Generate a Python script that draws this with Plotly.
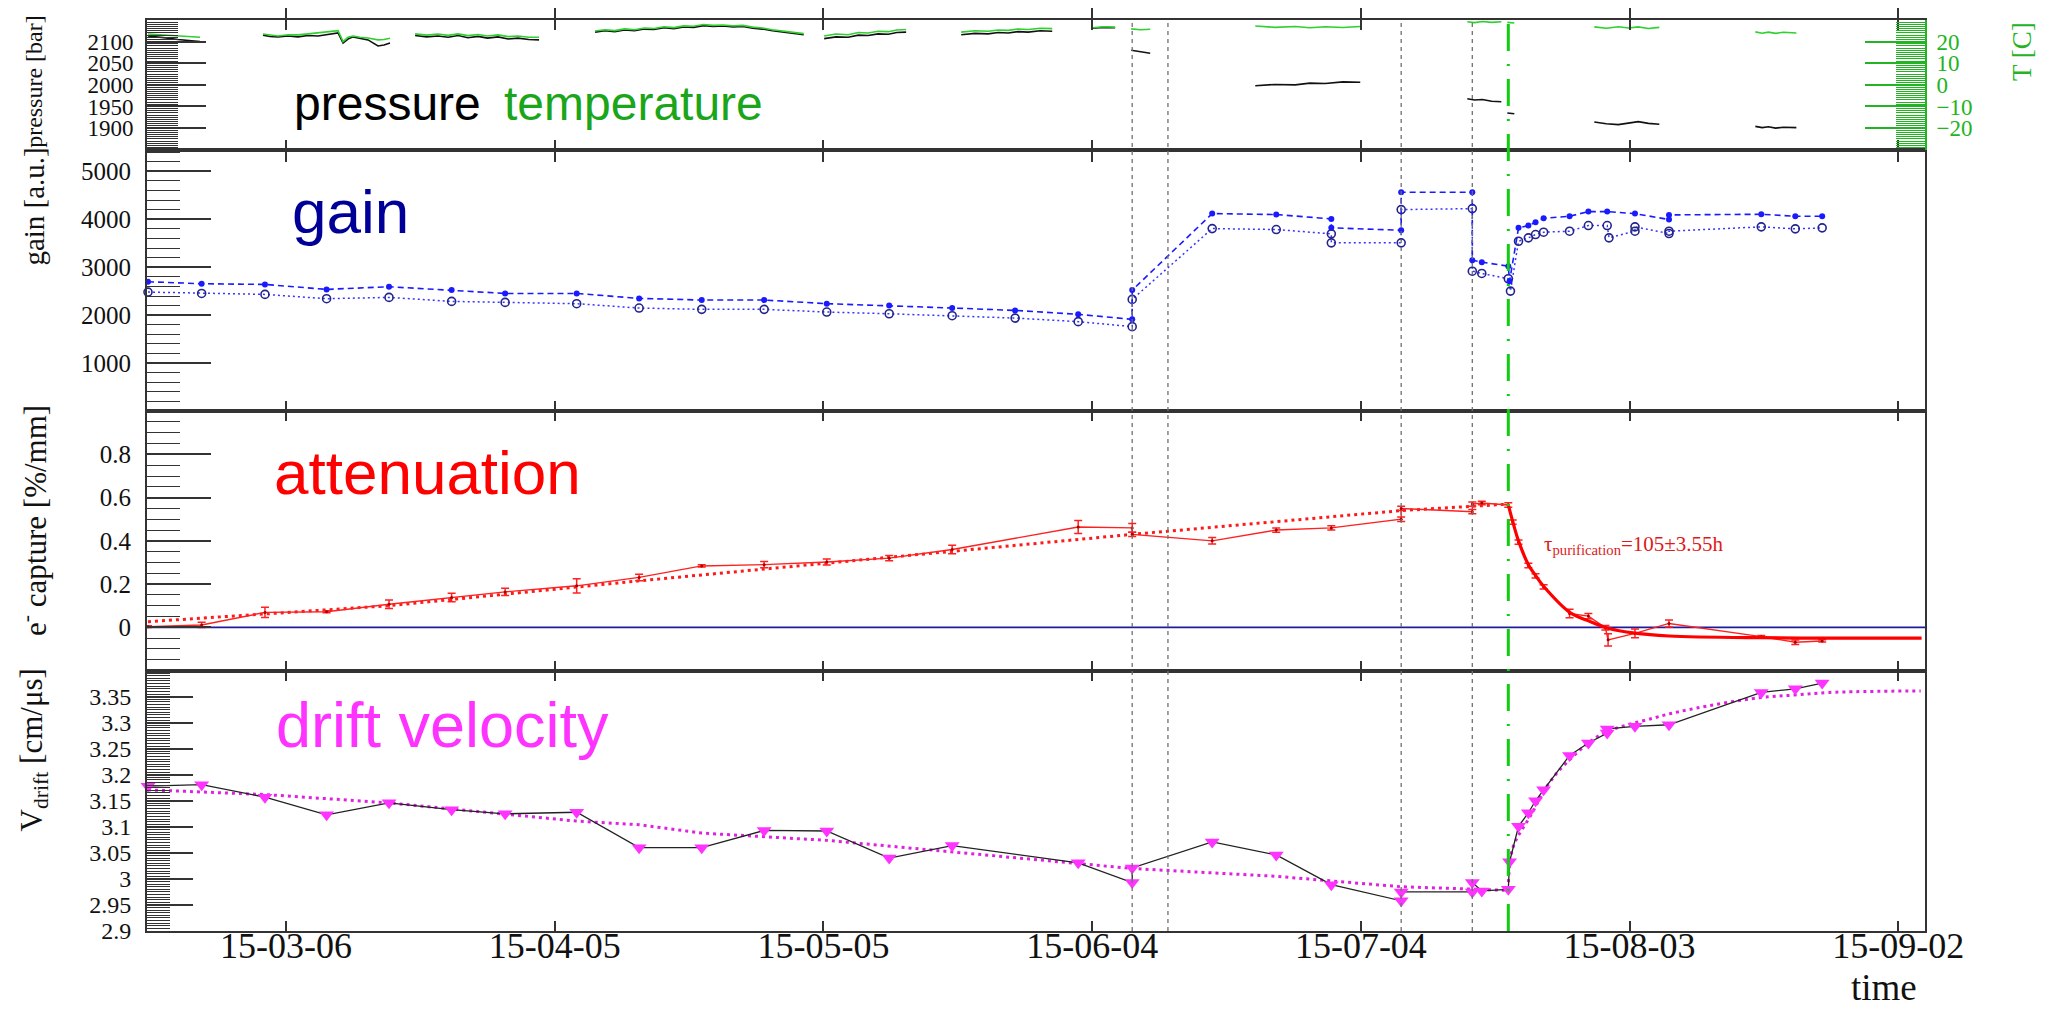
import pandas as pd
import plotly.graph_objects as go

# ---------------- data (time in days relative to 2015-03-06) ----------------
T0 = pd.Timestamp("2015-03-06")
x_range_days = [-15.52, 182.98]
tick_days = [0, 30, 60, 90, 120, 150, 180]
tick_labels = ["15-03-06", "15-04-05", "15-05-05", "15-06-04", "15-07-04", "15-08-03", "15-09-02"]

# pressure / temperature slow-control records (None = gap)
pt_days = [-15.41, -14.29, -13.18, -12.06, -10.94, -9.60, None,
           -2.57, -1.79, -0.89, 0.22, 1.34, 2.46, 3.57, 4.69, 5.81, 6.37, 6.92, 7.48, 8.26, 9.16, 10.27, 10.94, 11.61, None,
           14.41, 15.7, 16.97, 18.1, 19.21, 20.3, 21.44, 22.5, 23.67, 24.8, 25.91, 27.1, 28.25, None,
           34.5, 35.6, 36.7, 37.8, 38.9, 40.0, 41.1, 42.2, 43.3, 44.4, 45.5, 46.6, 47.7, 48.8, 49.9,
           51.0, 52.1, 53.2, 54.3, 55.4, 56.5, 57.8, None,
           60.08, 61.4, 62.76, 63.9, 64.99, 66.1, 67.23, 68.2, 69.23, None,
           75.38, 76.9, 78.39, 79.5, 80.62, 81.7, 82.86, 84.2, 85.54, None,
           90.00, 91.3, 92.57, None,
           94.36, 95.4, 96.48, None,
           108.21, 110.4, 112.67, 114.3, 116.02, 118.0, 119.93, None,
           131.88, 132.7, 133.56, 134.6, 135.68, None,
           136.35, 137.13, None,
           146.06, 147.4, 148.74, 149.9, 150.97, 152.1, 153.32, None,
           164.04, 164.8, 165.49, 166.3, 167.17, 168.62]
pressure = [2113, 2111, 2108, 2105, 2103, 2100, None,
            2115, 2112, 2111, 2113, 2111, 2114, 2113, 2117, 2120, 2097, 2106, 2111, 2107, 2104, 2090, 2092, 2097, None,
            2114, 2111, 2113, 2110, 2114, 2109, 2112, 2108, 2111, 2106, 2108, 2105, 2104, None,
            2122, 2125, 2123, 2127, 2125, 2129, 2128, 2132, 2130, 2134, 2133, 2137, 2135, 2136, 2134,
            2135, 2131, 2129, 2125, 2122, 2118, 2116, None,
            2107, 2111, 2110, 2115, 2114, 2118, 2117, 2121, 2122, None,
            2116, 2119, 2118, 2121, 2120, 2123, 2122, 2125, 2124, None,
            2131, 2133, 2132, None,
            2080, 2076, 2073, None,
            1998, 2001, 2000, 2004, 2003, 2007, 2006, None,
            1968, 1965, 1966, 1962, 1961, None,
            1935, 1933, None,
            1914, 1910, 1908, 1912, 1915, 1911, 1909, None,
            1904, 1901, 1903, 1900, 1902, 1901]
temperature = [23.5, 23.2, 22.8, 22.5, 22.3, 22.0, None,
               23.5, 23.0, 22.6, 23.2, 23.1, 23.6, 24.0, 24.5, 25.1, 20.0, 22.0, 22.6, 22.0, 21.7, 20.8, 21.0, 21.6, None,
               23.6, 23.0, 23.5, 22.9, 23.6, 22.8, 23.3, 22.6, 23.1, 22.3, 22.6, 22.0, 22.0, None,
               24.9, 25.5, 25.1, 25.9, 25.5, 26.3, 26.1, 26.9, 26.5, 27.3, 27.1, 27.9, 27.5, 27.7, 27.3,
               27.5, 26.7, 26.3, 25.5, 24.9, 24.1, 23.7, None,
               22.6, 23.5, 23.2, 24.2, 24.0, 24.8, 24.6, 25.4, 25.6, None,
               24.4, 25.0, 24.8, 25.4, 25.2, 25.8, 25.6, 26.2, 26.0, None,
               26.4, 26.9, 26.7, None,
               25.9, 25.5, 25.7, None,
               27.2, 26.6, 27.0, 26.4, 26.9, 26.5, 27.0, None,
               29.2, 28.8, 29.3, 28.9, 29.2, None,
               28.9, 28.6, None,
               26.8, 26.2, 26.9, 26.3, 26.8, 26.1, 26.6, None,
               24.5, 23.9, 24.4, 23.8, 24.3, 24.0]

# gain
gain_hi_days = [-15.41, -9.42, -2.35, 4.53, 11.50, 18.49, 24.46, 32.45, 39.42, 46.41, 53.38, 60.37,
                67.34, 74.37, 81.40, 88.44, 94.47, 94.47, 103.4, 110.55, 116.7, 116.7, 124.5, 124.5,
                132.44, 132.44, 133.5, 136.46, 136.6, 137.6, 138.7, 139.5, 140.4, 143.3, 145.4, 147.5,
                150.6, 154.4, 154.4, 164.7, 168.5, 171.5]
gain_hi = [2698, 2656, 2642, 2538, 2593, 2524, 2454, 2454, 2350, 2316, 2316, 2240,
           2200, 2150, 2100, 2018, 1914, 2523, 4118, 4098, 4008, 3821, 3771, 4562,
           4562, 3147, 3106, 3023, 2710, 3821, 3869, 3938, 4021, 4063, 4160, 4160,
           4118, 3994, 4091, 4104, 4063, 4063]
gain_lo_days = [-15.41, -9.42, -2.35, 4.53, 11.50, 18.49, 24.46, 32.45, 39.42, 46.41, 53.38, 60.37,
                67.34, 74.37, 81.40, 88.44, 94.47, 94.47, 103.4, 110.55, 116.7, 116.7, 124.5, 124.5,
                132.44, 132.44, 133.5, 136.46, 136.7, 137.6, 138.7, 139.5, 140.4, 143.3, 145.4, 147.5,
                147.7, 150.6, 150.6, 154.4, 154.4, 164.7, 168.5, 171.5]
gain_lo = [2482, 2454, 2434, 2344, 2371, 2288, 2267, 2240, 2149, 2122, 2122, 2066,
           2030, 1990, 1940, 1866, 1762, 2330, 3806, 3786, 3696, 3509, 3509, 4202,
           4222, 2918, 2870, 2760, 2503, 3542, 3613, 3682, 3730, 3751, 3869, 3869,
           3613, 3751, 3842, 3703, 3751, 3842, 3800, 3821]

# attenuation (electron capture)
att_days = [-15.41, -9.42, -2.35, 4.53, 11.50, 18.49, 24.46, 32.45, 39.42, 46.41, 53.38, 60.37,
            67.34, 74.37, 88.44, 94.47, 94.47, 103.4, 110.55, 116.7, 124.5, 124.5, 132.44, 132.44,
            133.5, 136.46, 136.95, 137.6, 138.7, 139.5, 140.4, 143.3, 145.4, 147.3, 147.6, 150.6,
            154.4, 164.7, 168.5, 171.5]
att = [0.003, 0.011, 0.069, 0.072, 0.107, 0.138, 0.164, 0.192, 0.231, 0.284, 0.290, 0.302,
       0.32, 0.36, 0.464, 0.46, 0.43, 0.40, 0.45, 0.46, 0.50, 0.55, 0.535, 0.57,
       0.575, 0.566, 0.487, 0.394, 0.286, 0.238, 0.187, 0.064, 0.052, -0.002, -0.058, -0.028,
       0.018, -0.043, -0.069, -0.063]
att_err = [0.004, 0.012, 0.024, 0.005, 0.02, 0.02, 0.017, 0.033, 0.015, 0.005, 0.014, 0.014,
           0.012, 0.02, 0.03, 0.02, 0.01, 0.015, 0.01, 0.01, 0.01, 0.01, 0.01, 0.01,
           0.008, 0.01, 0.01, 0.01, 0.01, 0.01, 0.01, 0.02, 0.012, 0.01, 0.028, 0.02,
           0.016, 0.005, 0.01, 0.005]
att_fit_pre_days = [-15.41, 11.50, 39.42, 67.34, 94.47, 124.5, 136.46]
att_fit_pre = [0.026, 0.10, 0.215, 0.325, 0.43, 0.54, 0.57]
att_fit_post_days = [136.46, 136.95, 137.6, 138.7, 139.5, 140.4, 143.3, 145.4, 147.5, 150.6, 154.4, 164.7, 182.6]
att_fit_post = [0.566, 0.49, 0.40, 0.29, 0.24, 0.19, 0.07, 0.03, -0.003, -0.027, -0.040, -0.048, -0.05]
tau_text = "τ<sub>purification</sub>=105±3.55h"

# drift velocity
drift_days = [-15.41, -9.42, -2.35, 4.53, 11.50, 18.49, 24.46, 32.45, 39.42, 46.41, 53.38, 60.37,
              67.34, 74.37, 88.44, 94.47, 94.47, 103.4, 110.55, 116.7, 124.5, 124.5, 132.44, 132.44,
              133.5, 136.46, 136.6, 137.6, 138.7, 139.5, 140.4, 143.3, 145.4, 147.5, 147.5, 150.6,
              154.4, 164.7, 168.5, 171.5]
drift = [3.178, 3.181, 3.157, 3.123, 3.146, 3.133, 3.125, 3.128, 3.060, 3.060, 3.093, 3.092,
         3.040, 3.064, 3.031, 2.993, 3.021, 3.071, 3.046, 2.989, 2.958, 2.975, 2.975, 2.993,
         2.977, 2.980, 3.033, 3.101, 3.127, 3.150, 3.171, 3.237, 3.261, 3.280, 3.288, 3.293,
         3.296, 3.358, 3.365, 3.376]
drift_fit_pre_days = [-15.41, -2.35, 11.50, 32.45, 39.42, 46.41, 60.37, 94.47, 110.55, 124.5, 136.46]
drift_fit_pre = [3.171, 3.162, 3.146, 3.111, 3.104, 3.088, 3.074, 3.020, 3.005, 2.985, 2.978]
drift_fit_post_days = [136.46, 136.95, 139.0, 140.9, 142.9, 146.8, 152.7, 156.6, 164.5, 168.4, 172.3, 182.5]
drift_fit_post = [2.98, 3.059, 3.123, 3.181, 3.222, 3.277, 3.309, 3.325, 3.348, 3.353, 3.358, 3.361]

# event markers (vertical lines)
event_days = [94.47, 98.46, 124.5, 132.44]
purification_day = 136.46


def dates(days):
    return [None if d is None else T0 + pd.Timedelta(days=d) for d in days]


# ---------------- geometry helpers (pixel -> paper) ----------------
W, H = 2047, 1011
ML, MR, MT, MB = 139, 130, 10, 88
PW, PH = W - ML - MR, H - MT - MB


def fx(px):
    return (px - ML) / PW


def fy(py):
    return (H - MB - py) / PH


SERIF = "Liberation Serif, Times New Roman, serif"
SANS = "Liberation Sans, Arial, sans-serif"
AX = "#333333"
GREEN = "#22b422"

fig = go.Figure()

# top panel: pressure and temperature
fig.add_trace(go.Scatter(x=dates(pt_days), y=pressure, mode="lines", xaxis="x4", yaxis="y4",
                         line=dict(color="#111111", width=1.6), connectgaps=False))
fig.add_trace(go.Scatter(x=dates(pt_days), y=temperature, mode="lines", xaxis="x4", yaxis="y5",
                         line=dict(color="#2fd02f", width=1.6), connectgaps=False))

# gain
fig.add_trace(go.Scatter(x=dates(gain_lo_days), y=gain_lo, mode="lines+markers", xaxis="x3", yaxis="y3",
                         line=dict(color="#3535ff", width=1.5, dash="2px,3px"), cliponaxis=False,
                         marker=dict(symbol="circle-open", size=8, color="#23238c", line=dict(width=1.6))))
fig.add_trace(go.Scatter(x=dates(gain_hi_days), y=gain_hi, mode="lines+markers", xaxis="x3", yaxis="y3",
                         line=dict(color="#1a1aff", width=1.6, dash="6px,4px"), cliponaxis=False,
                         marker=dict(symbol="circle", size=6, color="#1a1aff")))

# attenuation
fig.add_trace(go.Scatter(x=dates(att_fit_pre_days), y=att_fit_pre, mode="lines", xaxis="x2", yaxis="y2",
                         line=dict(color="#ff1a1a", width=3, dash="3px,4px")))
fig.add_trace(go.Scatter(x=dates(att_days), y=att, mode="lines+markers", xaxis="x2", yaxis="y2",
                         line=dict(color="#ff2020", width=1.4), cliponaxis=False,
                         marker=dict(symbol="circle", size=3, color="#aa0000"),
                         error_y=dict(type="data", array=att_err, visible=True, color="#ff2020",
                                      thickness=1.5, width=4)))
fig.add_trace(go.Scatter(x=dates(att_fit_post_days), y=att_fit_post, mode="lines", xaxis="x2", yaxis="y2",
                         line=dict(color="#ff0000", width=3.2, shape="spline")))

# drift velocity
fig.add_trace(go.Scatter(x=dates(drift_fit_pre_days), y=drift_fit_pre, mode="lines", xaxis="x", yaxis="y",
                         line=dict(color="#e020e0", width=3, dash="3px,4px")))
fig.add_trace(go.Scatter(x=dates(drift_fit_post_days), y=drift_fit_post, mode="lines", xaxis="x", yaxis="y",
                         line=dict(color="#e020e0", width=3, dash="3px,4px", shape="spline")))
fig.add_trace(go.Scatter(x=dates(drift_days), y=drift, mode="lines+markers", xaxis="x", yaxis="y",
                         line=dict(color="#222222", width=1.3), cliponaxis=False,
                         marker=dict(symbol="triangle-down", size=13, color="#ff33ff")))

# ---------------- axes ----------------
xcommon = dict(type="date", showgrid=False, zeroline=False, showline=True, linecolor=AX, linewidth=2,
               mirror="allticks", ticks="inside", ticklen=10, tickwidth=1.5, tickcolor=AX,
               tickvals=dates(tick_days), ticktext=tick_labels, domain=[0, 1])
ycommon = dict(showgrid=False, zeroline=False, showline=True, linecolor=AX, linewidth=2, mirror=True,
               ticks="inside", tickwidth=1.5, tickcolor=AX,
               tickfont=dict(family=SERIF, size=25, color="#111111"), ticklabelstandoff=9)


def minor(dt, t0, ln, col=AX):
    return dict(dtick=dt, tick0=t0, ticks="inside", ticklen=ln, tickcolor=col, tickwidth=1)


d_top = [fy(140), 1.0]
d_gain = [fy(402), fy(140)]
d_att = [fy(662), fy(402)]
d_drift = [0.0, fy(662)]

fig.update_layout(
    width=W, height=H, margin=dict(l=ML, r=MR, t=MT, b=MB),
    paper_bgcolor="white", plot_bgcolor="white", showlegend=False,
    xaxis=dict(xcommon, anchor="y", range=dates(x_range_days),
               tickfont=dict(family=SERIF, size=36, color="#111111"), ticklabelstandoff=-18),
    xaxis2=dict(xcommon, anchor="y2", matches="x", showticklabels=False),
    xaxis3=dict(xcommon, anchor="y3", matches="x", showticklabels=False),
    xaxis4=dict(xcommon, anchor="y4", matches="x", showticklabels=False),
    yaxis=dict(ycommon, domain=d_drift, anchor="x", range=[2.9, 3.4],
               tickvals=[2.9, 2.95, 3.0, 3.05, 3.1, 3.15, 3.2, 3.25, 3.3, 3.35],
               ticktext=["2.9", "2.95", "3", "3.05", "3.1", "3.15", "3.2", "3.25", "3.3", "3.35"],
               tickfont=dict(family=SERIF, size=24, color="#111111"),
               ticklen=46, minor=minor(0.005, 2.9, 23)),
    yaxis2=dict(ycommon, domain=d_att, anchor="x2", range=[-0.2, 1.0],
                tickvals=[0, 0.2, 0.4, 0.6, 0.8], ticktext=["0", "0.2", "0.4", "0.6", "0.8"],
                ticklen=64, minor=minor(0.05, 0, 33)),
    yaxis3=dict(ycommon, domain=d_gain, anchor="x3", range=[0, 5450],
                tickvals=[1000, 2000, 3000, 4000, 5000],
                ticklen=64, minor=minor(200, 0, 33)),
    yaxis4=dict(ycommon, domain=d_top, anchor="x4", range=[1850, 2150], mirror=False,
                tickvals=[1900, 1950, 2000, 2050, 2100],
                tickfont=dict(family=SERIF, size=23, color="#111111"), ticklabelstandoff=7,
                ticklen=59, minor=minor(5, 1850, 31)),
    yaxis5=dict(overlaying="y4", side="right", anchor="x4", range=[-30, 30], showgrid=False,
                zeroline=False, showline=True, linecolor=GREEN, linewidth=2,
                ticks="inside", ticklen=60, tickwidth=1.5, tickcolor=GREEN,
                tickvals=[-20, -10, 0, 10, 20],
                tickfont=dict(family=SERIF, size=23, color=GREEN), ticklabelstandoff=5,
                minor=minor(1, -30, 29, GREEN)),
)

# ---------------- shapes ----------------
shapes = []
for d in event_days:
    shapes.append(dict(type="line", xref="x", yref="paper", x0=dates([d])[0], x1=dates([d])[0],
                       y0=0, y1=1, line=dict(color="#707070", width=1.3, dash="4px,4px")))
shapes.append(dict(type="line", xref="x", yref="paper", x0=dates([purification_day])[0],
                   x1=dates([purification_day])[0], y0=0, y1=1,
                   line=dict(color="#11cc11", width=3, dash="27px,13px,2px,13px")))
shapes.append(dict(type="line", xref="paper", yref="y2", x0=0, x1=1, y0=0, y1=0,
                   line=dict(color="#1c1c9c", width=1.6), layer="below"))
fig.update_layout(shapes=shapes)

# ---------------- annotations ----------------
TX = 26  # centre of the rotated y titles
ann = []
ann.append(dict(text="pressure [bar]", x=fx(TX), y=fy(72), xanchor="center", yanchor="middle",
                textangle=-90, font=dict(family=SERIF, size=24, color="#111111")))
ann.append(dict(text="gain [a.u.]", x=fx(TX), y=fy(197), xanchor="center", yanchor="middle",
                textangle=-90, font=dict(family=SERIF, size=29, color="#111111")))
ann.append(dict(text="e<sup>-</sup> capture [%/mm]", x=fx(TX), y=fy(512), xanchor="center", yanchor="middle",
                textangle=-90, font=dict(family=SERIF, size=31, color="#111111")))
ann.append(dict(text="V<sub>drift</sub> [cm/μs]", x=fx(TX), y=fy(742), xanchor="center", yanchor="middle",
                textangle=-90, font=dict(family=SERIF, size=31, color="#111111")))
ann.append(dict(text="T [C]", x=fx(2014), y=fy(42), xanchor="center", yanchor="middle",
                textangle=-90, font=dict(family=SERIF, size=27, color=GREEN)))
ann.append(dict(text="time", x=fx(1911), y=fy(1002), xanchor="right", yanchor="bottom",
                font=dict(family=SERIF, size=37, color="#111111")))
# panel labels
ann.append(dict(text="pressure", x=fx(284), y=fy(122), xanchor="left", yanchor="bottom",
                font=dict(family=SANS, size=48, color="#000000")))
ann.append(dict(text="temperature", x=fx(494), y=fy(122), xanchor="left", yanchor="bottom",
                font=dict(family=SANS, size=48, color="#1aa51a")))
ann.append(dict(text="gain", x=fx(282), y=fy(239), xanchor="left", yanchor="bottom",
                font=dict(family=SANS, size=62, color="#000099")))
ann.append(dict(text="attenuation", x=fx(264), y=fy(500), xanchor="left", yanchor="bottom",
                font=dict(family=SANS, size=62, color="#ff0000")))
ann.append(dict(text="drift velocity", x=fx(266), y=fy(754), xanchor="left", yanchor="bottom",
                font=dict(family=SANS, size=63, color="#ff33ff")))
ann.append(dict(text=tau_text, x=fx(1534), y=fy(551), xanchor="left", yanchor="bottom",
                font=dict(family=SERIF, size=21, color="#dd1a1a")))
for a in ann:
    a.update(xref="paper", yref="paper", showarrow=False)
fig.update_layout(annotations=ann)

fig.write_html("out.html")
